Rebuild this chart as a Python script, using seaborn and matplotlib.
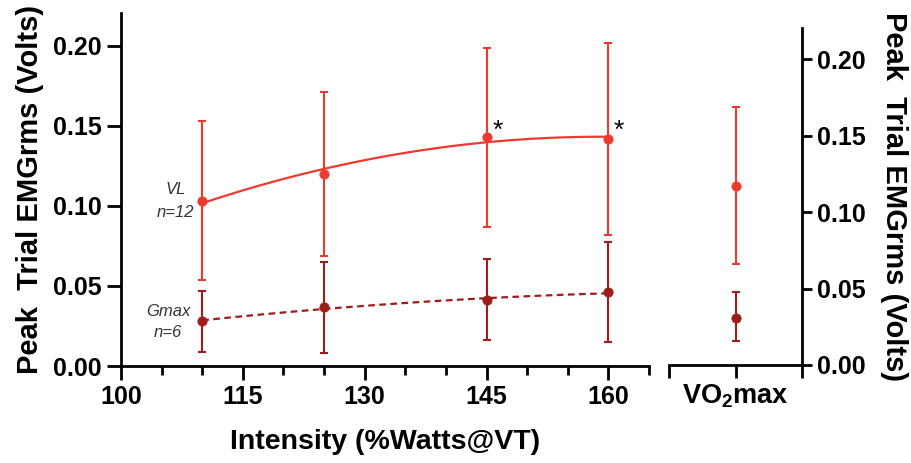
import numpy as np
import pandas as pd
import matplotlib
matplotlib.use('Agg')
import matplotlib.pyplot as plt
import seaborn as sns

# Dados
intensity = [110, 125, 145, 160]
vl_mean = [0.103, 0.120, 0.143, 0.142]
vl_upper = [0.153, 0.171, 0.199, 0.202]
vl_lower = [0.054, 0.069, 0.087, 0.082]
gmax_mean = [0.028, 0.037, 0.041, 0.046]
gmax_upper = [0.047, 0.065, 0.067, 0.0775]
gmax_lower = [0.009, 0.008, 0.016, 0.015]

vo2_label = r'$\mathbf{VO_{2}max}$'
vo2_vl = [0.117, 0.169, 0.066]      # média, superior, inferior
vo2_gmax = [0.031, 0.048, 0.016]

vl_color = '#EE3A2E'
gmax_color = '#9E1C1A'

sns.set_style('ticks')
plt.rcParams['font.family'] = ['Liberation Sans', 'DejaVu Sans']
plt.rcParams['font.weight'] = 'bold'
plt.rcParams['mathtext.fontset'] = 'custom'
plt.rcParams['mathtext.bf'] = 'Liberation Sans:bold'
plt.rcParams['mathtext.rm'] = 'Liberation Sans:bold'
for k in ['text.color', 'axes.labelcolor', 'xtick.color', 'ytick.color']:
    plt.rcParams[k] = 'black'

fig = plt.figure(figsize=(9.11, 4.63), dpi=100)
ax = fig.add_axes([0.1328, 0.2095, 0.5796, 0.7624])
ax2 = fig.add_axes([0.7344, 0.2117, 0.146, 0.7279])

# curvas de ajuste (polinômio de 2º grau)
xs = np.linspace(110, 160, 100)
fit_vl = np.polyval(np.polyfit(intensity, vl_mean, 2), xs)
fit_gm = np.polyval(np.polyfit(intensity, gmax_mean, 2), xs)
sns.lineplot(x=xs, y=fit_vl, ax=ax, color=vl_color, lw=1.6)
sns.lineplot(x=xs, y=fit_gm, ax=ax, color=gmax_color, lw=1.6, linestyle=(0, (3, 2)))

for mean, up, lo, c in [(vl_mean, vl_upper, vl_lower, vl_color),
                        (gmax_mean, gmax_upper, gmax_lower, gmax_color)]:
    mean = np.array(mean)
    yerr = [mean - np.array(lo), np.array(up) - mean]
    ax.errorbar(intensity, mean, yerr=yerr, fmt='none', ecolor=c,
                elinewidth=1.5, capsize=2.8, capthick=1.5)
    sns.scatterplot(x=intensity, y=mean, ax=ax, color=c, s=45,
                    edgecolor=c, zorder=5)

ax.set_xlim(100, 165)
ax.set_ylim(0, 0.2206)
ax.set_xticks([100, 115, 130, 145, 160])
ax.set_xticks([105, 110, 120, 125, 135, 140, 150, 155, 165], minor=True)
ax.set_yticks([0, 0.05, 0.10, 0.15, 0.20])
ax.set_yticklabels(['0.00', '0.05', '0.10', '0.15', '0.20'])
ax.tick_params(axis='both', which='major', length=10, width=2, labelsize=18,
               color='black', labelcolor='black', pad=4)
ax.tick_params(axis='x', which='minor', length=6.5, width=2, color='black')
for lab in ax.get_xticklabels() + ax.get_yticklabels():
    lab.set_fontweight('bold')
for s in ['top', 'right']:
    ax.spines[s].set_visible(False)
for s in ['left', 'bottom']:
    ax.spines[s].set_linewidth(2)
    ax.spines[s].set_color('black')
ax.set_xlabel('Intensity (%Watts@VT)', fontsize=20.5, fontweight='bold',
              labelpad=14, color='black')
ax.set_ylabel('Peak  Trial EMGrms (Volts)', fontsize=21, fontweight='bold',
              labelpad=6, color='black')

# anotações
ax.text(106.7, 0.110, 'VL', style='italic', fontsize=12, color='#333333',
        ha='center', va='center', fontweight='normal')
ax.text(106.7, 0.096, 'n=12', style='italic', fontsize=12, color='#333333',
        ha='center', va='center', fontweight='normal')
ax.text(105.8, 0.034, 'Gmax', style='italic', fontsize=12, color='#333333',
        ha='center', va='center', fontweight='normal')
ax.text(105.8, 0.021, 'n=6', style='italic', fontsize=12, color='#333333',
        ha='center', va='center', fontweight='normal')
for xa in [146.4, 161.3]:
    ax.text(xa, 0.147, '*', fontsize=19, color='black', ha='center',
            va='center', fontweight='normal')

# painel VO2max
for vals, c in [(vo2_vl, vl_color), (vo2_gmax, gmax_color)]:
    m, up, lo = vals
    ax2.errorbar([0], [m], yerr=[[m - lo], [up - m]], fmt='none', ecolor=c,
                 elinewidth=1.5, capsize=2.8, capthick=1.5)
    sns.scatterplot(x=[0], y=[m], ax=ax2, color=c, s=45, edgecolor=c, zorder=5)

ax2.set_xlim(-1, 1)
ax2.set_ylim(0, 0.2206)
ax2.set_xticks([-1, 0, 1])
ax2.set_xticklabels(['', vo2_label, ''])
ax2.set_yticks([0, 0.05, 0.10, 0.15, 0.20])
ax2.set_yticklabels(['0.00', '0.05', '0.10', '0.15', '0.20'])
ax2.yaxis.tick_right()
ax2.yaxis.set_label_position('right')
ax2.tick_params(axis='x', length=9, width=2, labelsize=19.5, color='black',
                labelcolor='black')
ax2.tick_params(axis='y', length=7, width=2, labelsize=18, color='black',
                labelcolor='black', pad=4)
for lab in ax2.get_xticklabels() + ax2.get_yticklabels():
    lab.set_fontweight('bold')
for s in ['top', 'left']:
    ax2.spines[s].set_visible(False)
for s in ['right', 'bottom']:
    ax2.spines[s].set_linewidth(2)
    ax2.spines[s].set_color('black')
ax2.set_ylabel('Peak  Trial EMGrms (Volts)', fontsize=21, fontweight='bold',
               rotation=270, labelpad=30, color='black')

fig.savefig('out.png', dpi=100)
